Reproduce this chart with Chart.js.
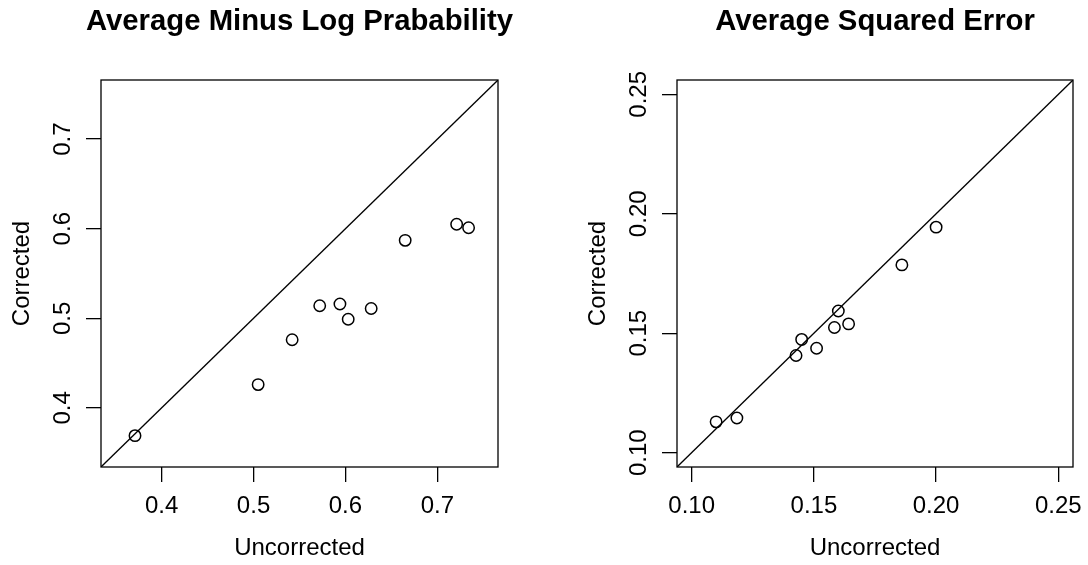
<!DOCTYPE html>
<html lang="en">
<head>
  <meta charset="UTF-8" />
  <title>Corrected vs Uncorrected</title>
  <style>
    body {
      margin: 0;
      background: #fff;
    }
    #wrap {
      display: flex;
      width: 1088px;
      height: 565px;
    }
    .panel {
      width: 544px;
      height: 565px;
    }
  </style>
</head>
<body>
  <div id="wrap">
    <div class="panel"><canvas id="logChart" width="544" height="565"></canvas></div>
    <div class="panel"><canvas id="sqChart" width="544" height="565"></canvas></div>
  </div>

  <script src="https://cdn.jsdelivr.net/npm/chart.js"></script>
  <script>
    // left panel: average minus log probability
    const logUncorrected = [0.371, 0.505, 0.542, 0.572, 0.594, 0.603, 0.628, 0.665, 0.721, 0.734];
    const logCorrected   = [0.369, 0.426, 0.476, 0.514, 0.516, 0.499, 0.511, 0.587, 0.605, 0.601];
    const logTicks       = [0.4, 0.5, 0.6, 0.7];
    const logTickLabels  = ['0.4', '0.5', '0.6', '0.7'];
    const logLimits      = [0.35, 0.75];

    // right panel: average squared error
    const sqUncorrected = [0.110, 0.1185, 0.1427, 0.145, 0.1511, 0.1584, 0.160, 0.1642, 0.186, 0.200];
    const sqCorrected   = [0.1129, 0.1145, 0.1407, 0.1474, 0.1437, 0.1524, 0.1593, 0.1539, 0.1786, 0.1944];
    const sqTicks       = [0.10, 0.15, 0.20, 0.25];
    const sqTickLabels  = ['0.10', '0.15', '0.20', '0.25'];
    const sqLimits      = [0.10, 0.25];

    const FONT = "'Liberation Sans', Arial, Helvetica, sans-serif";
    const LW = 1.3;
    Chart.defaults.font.family = FONT;
    Chart.defaults.color = '#000';

    // draws the full frame round the plot region
    const frame = {
      id: 'frame',
      afterDraw(chart) {
        const { ctx, chartArea: a } = chart;
        ctx.save();
        ctx.strokeStyle = '#000';
        ctx.lineWidth = LW;
        ctx.strokeRect(a.left, a.top, a.right - a.left, a.bottom - a.top);
        ctx.restore();
      }
    };

    // title stays centred on the plot box but may be wider than it
    const wideTitle = {
      id: 'wideTitle',
      afterLayout(chart) {
        const t = chart.titleBlock;
        if (!t) return;
        const mid = (t.left + t.right) / 2;
        t.left = mid - 260;
        t.right = mid + 260;
      }
    };

    function makePanel(id, opts) {
      // R style range: limits widened by 4% each side
      const span = opts.limits[1] - opts.limits[0];
      const lo = opts.limits[0] - span * 0.04;
      const hi = opts.limits[1] + span * 0.04;

      const points = opts.xs.map((x, i) => ({ x: x, y: opts.ys[i] }));

      const axisCommon = (ticks, labels) => ({
        type: 'linear',
        min: lo,
        max: hi,
        border: { display: false },
        grid: {
          drawOnChartArea: false,
          drawTicks: true,
          tickLength: 15,
          color: '#000',
          lineWidth: LW
        },
        afterBuildTicks: scale => {
          scale.ticks = ticks.map(v => ({ value: v }));
        },
        ticks: {
          font: { size: 24 },
          callback: (v, i) => labels[i]
        },
        title: {
          display: true,
          font: { size: 24, lineHeight: 1.2 }
        }
      });

      const xAxis = axisCommon(opts.ticks, opts.labels);
      xAxis.position = 'bottom';
      xAxis.ticks.padding = 9.6;
      xAxis.ticks.maxRotation = 0;
      xAxis.title.text = 'Uncorrected';
      xAxis.title.padding = { top: 0, bottom: 1.9 };
      xAxis.afterFit = s => {
        s.height = 98;
        s.paddingLeft = 0;
        s.paddingRight = 0;
      };

      const yAxis = axisCommon(opts.ticks, opts.labels);
      yAxis.position = 'left';
      yAxis.ticks.minRotation = 90;
      yAxis.ticks.maxRotation = 90;
      yAxis.ticks.crossAlign = 'center';
      yAxis.ticks.padding = opts.yTickPad;
      yAxis.title.text = 'Corrected';
      yAxis.title.padding = { top: opts.yTitlePad, bottom: 0 };
      yAxis.afterFit = s => {
        s.width = opts.left;
        s.paddingTop = 0;
        s.paddingBottom = 0;
      };

      const titleSize = 29.3;
      const titleMid = 21.8;
      const titleLine = titleSize * 1.2;

      return new Chart(document.getElementById(id), {
        type: 'scatter',
        data: {
          datasets: [
            {
              // y = x reference line
              data: [{ x: lo, y: lo }, { x: hi, y: hi }],
              showLine: true,
              borderColor: '#000',
              borderWidth: LW,
              pointRadius: 0
            },
            {
              data: points,
              pointStyle: 'circle',
              pointRadius: 5.7,
              borderWidth: 1.5,
              borderColor: '#000',
              backgroundColor: 'rgba(0,0,0,0)'
            }
          ]
        },
        options: {
          responsive: false,
          animation: false,
          layout: { padding: { left: 0, right: opts.right, top: 0, bottom: 0 } },
          plugins: {
            legend: { display: false },
            tooltip: { enabled: false },
            title: {
              display: true,
              text: opts.title,
              fullSize: false,
              color: '#000',
              font: { size: titleSize, weight: 'bold', lineHeight: 1.2 },
              padding: { top: titleMid - titleLine / 2, bottom: 80 - titleMid - titleLine / 2 }
            }
          },
          scales: { x: xAxis, y: yAxis }
        },
        plugins: [frame, wideTitle]
      });
    }

    makePanel('logChart', {
      title: 'Average Minus Log Prabability',
      xs: logUncorrected,
      ys: logCorrected,
      ticks: logTicks,
      labels: logTickLabels,
      limits: logLimits,
      left: 101,
      right: 46,
      yTickPad: 5.6,
      yTitlePad: 7.6
    });

    makePanel('sqChart', {
      title: 'Average Squared Error',
      xs: sqUncorrected,
      ys: sqCorrected,
      ticks: sqTicks,
      labels: sqTickLabels,
      limits: sqLimits,
      left: 133,
      right: 15,
      yTickPad: -1.1,
      yTitlePad: 39.6
    });
  </script>
</body>
</html>
